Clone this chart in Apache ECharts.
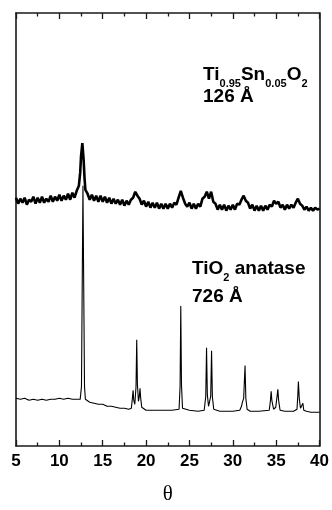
<!DOCTYPE html>
<html><head><meta charset="utf-8">
<script src="https://cdn.jsdelivr.net/npm/echarts@6/dist/echarts.min.js"></script>
<style>html,body{margin:0;padding:0;background:#fff}#c{width:332px;height:510px}</style>
</head><body><div id="c"></div>
<script>
// Ti0.95Sn0.05O2 (126 Å) – noisy, broadened pattern (intensity, a.u.)
const snTheta = [5.00,5.25,5.50,5.75,6.00,6.25,6.50,6.75,7.00,7.25,7.50,7.75,8.00,8.25,8.50,8.75,9.00,9.25,9.50,9.75,10.00,10.25,10.50,10.75,11.00,11.25,11.50,11.75,12.00,12.25,12.40,12.50,12.65,12.80,12.90,13.00,13.25,13.50,13.75,14.00,14.25,14.50,14.75,15.00,15.25,15.50,15.75,16.00,16.25,16.50,16.75,17.00,17.25,17.50,17.75,18.00,18.25,18.50,18.75,19.00,19.25,19.50,19.75,20.00,20.25,20.50,20.75,21.00,21.25,21.50,21.75,22.00,22.25,22.50,22.75,23.00,23.25,23.50,23.75,24.00,24.25,24.50,24.75,25.00,25.25,25.50,25.75,26.00,26.25,26.50,26.75,27.00,27.25,27.50,27.75,28.00,28.25,28.50,28.75,29.00,29.25,29.50,29.75,30.00,30.25,30.50,30.75,31.00,31.25,31.50,31.75,32.00,32.25,32.50,32.75,33.00,33.25,33.50,33.75,34.00,34.25,34.50,34.75,35.00,35.25,35.50,35.75,36.00,36.25,36.50,36.75,37.00,37.25,37.50,37.75,38.00,38.25,38.50,38.75,39.00,39.25,39.50,39.75,40.00];
const snInt = [250,244,249,245,250,243,248,246,251,244,250,245,251,245,249,246,252,246,251,247,253,247,252,248,254,248,255,250,257,262,275,292,305,288,270,258,254,248,253,247,252,246,252,246,251,245,250,244,249,244,248,243,248,242,247,243,248,250,256,252,249,243,247,241,246,240,245,240,245,239,244,239,244,239,244,240,245,243,250,257,250,244,241,245,239,244,239,244,241,249,251,256,249,256,246,244,238,243,238,243,237,242,238,243,238,244,243,248,252,247,245,239,243,237,242,237,242,237,242,238,243,241,247,244,246,240,243,238,243,239,243,240,245,249,244,242,238,241,237,240,237,240,238,239];

// TiO2 anatase (726 Å) – sharp pattern (intensity, a.u.)
const anTheta = [5.0,5.5,6.0,6.5,7.0,7.5,8.0,8.5,9.0,9.5,10.0,10.5,11.0,11.5,12.0,12.4,12.55,12.65,12.72,12.8,12.9,13.0,13.5,14.0,14.5,15.0,15.5,16.0,16.5,17.0,17.5,18.0,18.3,18.42,18.5,18.58,18.7,18.84,18.92,19.0,19.12,19.22,19.3,19.38,19.5,20.0,21.0,22.0,23.0,23.8,23.92,24.0,24.08,24.2,25.0,26.0,26.7,26.88,26.97,27.06,27.2,27.28,27.45,27.55,27.64,27.8,28.5,29.0,30.0,30.8,31.0,31.1,31.25,31.41,31.5,31.65,32.0,33.0,34.2,34.34,34.42,34.5,34.7,34.95,35.1,35.19,35.28,35.45,36.0,37.0,37.4,37.5,37.56,37.66,37.8,37.98,38.08,38.18,38.5,39.0,40.0];
const anInt = [48,47,48,46,47,46,47,46,47,47,48,47,48,47,47,47,60,180,262,170,60,47,44,43,42,42,40,40,39,38,38,37,38,48,56,46,42,60,107,62,45,50,58,48,39,36,36,36,36,37,60,141,62,38,36,35,36,50,99,52,40,40,50,96,50,37,35,35,35,36,40,44,48,81,48,37,35,35,36,46,55,46,37,39,50,57,46,36,35,35,37,52,65,48,38,38,43,36,35,34,34];

const xTicks = [5,10,15,20,25,30,35,40];
const xName = 'θ';
const label1 = ['Ti','0.95','Sn','0.05','O','2'];
const label1b = '126 Å';
const label2 = ['TiO','2',' anatase'];
const label2b = '726 Å';

const chart = echarts.init(document.getElementById('c'), null, {renderer:'canvas'});
const frame = {lineStyle:{color:'#1a1a1a', width:1.6}};
const tickCommon = {show:true, inside:true, length:6, lineStyle:{color:'#1a1a1a', width:1.3}};
const minorCommon = {show:true, splitNumber:2, length:3.5, lineStyle:{color:'#1a1a1a', width:1.3}};
const bold = {fontFamily:'Liberation Sans, Arial, sans-serif', fontWeight:'bold', fontSize:19, color:'#000'};
const rich = {
  a:{...bold, lineHeight:19, verticalAlign:'top'},
  s:{fontFamily:'Liberation Sans, Arial, sans-serif', fontWeight:'bold', fontSize:11, color:'#000', lineHeight:11, verticalAlign:'top', padding:[13,0,0,0]}
};
chart.setOption({
  animation:false,
  grid:{left:16, right:11, top:13, bottom:61},
  xAxis:[
    {type:'value', min:xTicks[0], max:xTicks[xTicks.length-1], interval:5, position:'bottom',
     axisLine:{show:true, onZero:false, ...frame}, axisTick:tickCommon, minorTick:minorCommon,
     splitLine:{show:false},
     axisLabel:{show:true, margin:7, fontSize:17, fontWeight:'bold', color:'#000', fontFamily:'Liberation Sans, Arial, sans-serif',
       customValues:xTicks},
     name:xName, nameLocation:'middle', nameGap:38,
     nameTextStyle:{fontFamily:'Liberation Serif, Times New Roman, serif', fontSize:21, color:'#000'}},
    {type:'value', min:xTicks[0], max:xTicks[xTicks.length-1], interval:5, position:'top',
     axisLine:{show:true, onZero:false, ...frame}, axisTick:tickCommon, minorTick:minorCommon,
     splitLine:{show:false}, axisLabel:{show:false}}
  ],
  yAxis:[
    {type:'value', min:0, max:436, position:'left', axisLine:{show:true, onZero:false, ...frame},
     axisTick:{show:false}, axisLabel:{show:false}, splitLine:{show:false}},
    {type:'value', min:0, max:436, position:'right', axisLine:{show:true, onZero:false, ...frame},
     axisTick:{show:false}, axisLabel:{show:false}, splitLine:{show:false}}
  ],
  series:[
    {type:'line', xAxisIndex:0, yAxisIndex:0, showSymbol:false, symbol:'none',
     data:snTheta.map((t,i)=>[t,snInt[i]]), lineStyle:{color:'#000', width:2.6, join:'bevel'}},
    {type:'line', xAxisIndex:0, yAxisIndex:0, showSymbol:false, symbol:'none',
     data:anTheta.map((t,i)=>[t,anInt[i]]), lineStyle:{color:'#000', width:1.1}}
  ],
  graphic:[
    {type:'text', left:203, top:65, style:{text:'{a|'+label1[0]+'}{s|'+label1[1]+'}{a|'+label1[2]+'}{s|'+label1[3]+'}{a|'+label1[4]+'}{s|'+label1[5]+'}', rich:rich}},
    {type:'text', left:203, top:87, style:{text:label1b, ...bold}},
    {type:'text', left:192, top:259, style:{text:'{a|'+label2[0]+'}{s|'+label2[1]+'}{a|'+label2[2]+'}', rich:rich}},
    {type:'text', left:192, top:287, style:{text:label2b, ...bold}}
  ]
});
</script></body></html>
